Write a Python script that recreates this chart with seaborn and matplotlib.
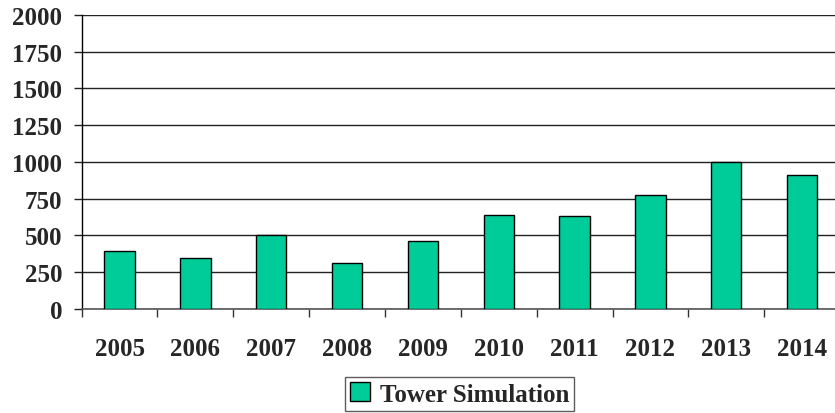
import matplotlib
matplotlib.use("Agg")
import matplotlib.pyplot as plt
import seaborn as sns
import pandas as pd
import numpy as np
from matplotlib.ticker import FixedLocator, NullFormatter
from matplotlib.patches import Patch

years = ["2005", "2006", "2007", "2008", "2009", "2010", "2011", "2012", "2013", "2014"]
tower_simulation = [395, 350, 505, 310, 465, 640, 630, 775, 1000, 910]
y_ticks = [0, 250, 500, 750, 1000, 1250, 1500, 1750, 2000]
series_name = "Tower Simulation"

df = pd.DataFrame({"Year": years, "Value": tower_simulation, "Series": series_name})

sns.set_theme(style="white")
plt.rcParams["font.family"] = ["Liberation Serif", "DejaVu Serif"]
plt.rcParams["font.weight"] = "bold"

fig = plt.figure(figsize=(8.35, 4.14), dpi=100)
ax = fig.add_axes([0.0978, 0.2512, 1.006 - 0.0978, 0.9614 - 0.2512])

sns.barplot(data=df, x="Year", y="Value", hue="Series", palette=["#00CC99"],
            saturation=1, width=0.4, edgecolor="black", linewidth=1.0, ax=ax,
            legend=False, zorder=3)

ax.set_ylim(0, 2000)
ax.set_xlim(-0.5, len(years) - 0.5)
ax.set_yticks(y_ticks)
ax.set_yticklabels([str(t) for t in y_ticks], fontsize=18, fontweight="bold")
ax.yaxis.grid(True, color="#222222", linewidth=1.0, zorder=0)
ax.set_axisbelow(True)

ax.xaxis.set_major_locator(FixedLocator(np.arange(-0.5, len(years), 1.0)))
ax.xaxis.set_major_formatter(NullFormatter())
ax.xaxis.set_minor_locator(FixedLocator(np.arange(len(years))))
ax.set_xticklabels(years, minor=True, fontsize=18, fontweight="bold")
ax.tick_params(axis="x", which="major", direction="out", length=6, width=1, color="#333333", bottom=True)
ax.tick_params(axis="x", which="minor", length=0, pad=20)
ax.tick_params(axis="y", direction="out", length=6, width=1, color="#222222", left=True, pad=8)

ax.set_xlabel("")
ax.set_ylabel("")
for s in ["top", "right"]:
    ax.spines[s].set_visible(False)
ax.spines["left"].set_color("black")
ax.spines["left"].set_linewidth(1.0)
ax.spines["bottom"].set_color("#555555")
ax.spines["bottom"].set_linewidth(1.2)

handle = Patch(facecolor="#00CC99", edgecolor="black", linewidth=1.0)
leg = fig.legend([handle], [series_name], loc="center", bbox_to_anchor=(0.55, 0.046),
                 frameon=True, fancybox=False, edgecolor="#333333",
                 prop={"family": "Liberation Serif", "weight": "bold", "size": 18},
                 handlelength=0.8, handleheight=0.8, handletextpad=0.4,
                 borderpad=0.2, borderaxespad=0)
leg.get_frame().set_linewidth(1.0)

fig.savefig("out.png", dpi=100)
